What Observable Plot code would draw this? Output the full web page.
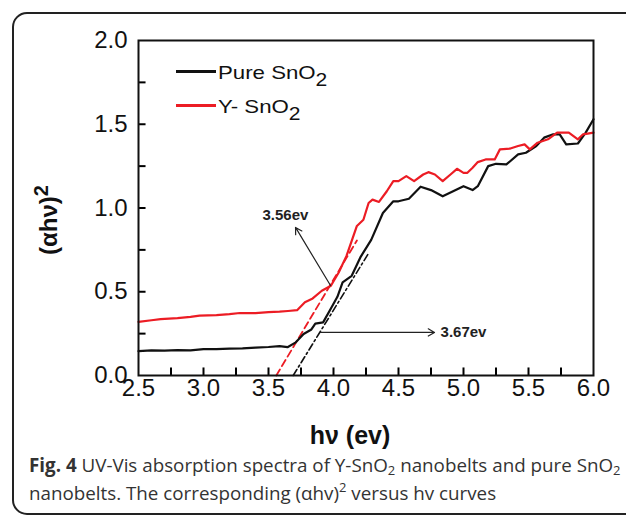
<!DOCTYPE html>
<html>
<head>
<meta charset="utf-8">
<script src="https://cdn.jsdelivr.net/npm/d3@7"></script>
<script src="https://cdn.jsdelivr.net/npm/@observablehq/plot@0.6"></script>
<style>
  html, body { margin: 0; padding: 0; background: #fff; }
  #wrap { position: relative; width: 626px; height: 520px; overflow: hidden; font-family: "Liberation Sans", Arial, sans-serif; }
  #card { position: absolute; left: 12px; top: 12px; width: 700px; height: 503px; border: 2px solid #222; border-radius: 15px; box-sizing: border-box; }
  #chart { position: absolute; left: 0; top: 0; }
  .legend { position: absolute; left: 176px; font-size: 19px; line-height: 22px; color: #111; white-space: nowrap; }
  .legend .sw { display: inline-block; width: 40px; height: 3px; margin-right: 2px; vertical-align: 6px; }
  .legend .tx { display: inline-block; transform: scaleX(1.17); transform-origin: 0 50%; }
  .legend sub { font-size: 18px; vertical-align: -7px; line-height: 0; }
  #xlabel { position: absolute; left: 0; width: 700px; top: 421px; text-align: center; font-weight: bold; font-size: 25px; color: #111; }
  #ylabel { position: absolute; left: 49px; top: 220px; transform: translate(-50%, -50%) rotate(-90deg); font-weight: bold; font-size: 24px; color: #111; white-space: nowrap; }
  #ylabel sup { font-size: 20px; vertical-align: 9px; line-height: 0; }
  #caption { position: absolute; left: 29px; top: 451px; font-family: "Open Sans", sans-serif; font-size: 18.8px; line-height: 28px; color: #333; white-space: nowrap; }
  #caption sub { font-size: 13px; vertical-align: -3px; line-height: 0; }
  #caption sup { font-size: 13px; vertical-align: 8px; line-height: 0; }
</style>
</head>
<body>
<div id="wrap">
  <div id="card"></div>
  <div id="chart"></div>
  <div class="legend" style="top:62px"><span class="sw" style="background:#111"></span><span class="tx">Pure SnO<sub>2</sub></span></div>
  <div class="legend" style="top:96px"><span class="sw" style="background:#ec1c24"></span><span class="tx">Y- SnO<sub>2</sub></span></div>
  <div id="xlabel">hν (ev)</div>
  <div id="ylabel">(αhν)<sup>2</sup></div>
  <div id="caption"><b>Fig. 4</b> UV-Vis absorption spectra of Y-SnO<sub>2</sub> nanobelts and pure SnO<sub>2</sub><br>nanobelts. The corresponding (αhv)<sup>2</sup> versus hv curves</div>
</div>
<script>
// Pure SnO2 curve
const hvPure  = [2.5, 2.6, 2.7, 2.8, 2.9, 3.0, 3.1, 3.2, 3.3, 3.4, 3.5, 3.585, 3.646, 3.71, 3.77, 3.83, 3.86, 3.92, 3.98, 4.03, 4.07, 4.14, 4.21, 4.29, 4.38, 4.46, 4.50, 4.58, 4.67, 4.75, 4.84, 4.92, 5.0, 5.07, 5.11, 5.19, 5.25, 5.33, 5.42, 5.48, 5.56, 5.62, 5.69, 5.74, 5.79, 5.88, 5.94, 6.0];
const absPure = [0.145, 0.15, 0.148, 0.152, 0.15, 0.158, 0.157, 0.16, 0.162, 0.166, 0.17, 0.175, 0.169, 0.198, 0.248, 0.275, 0.31, 0.317, 0.40, 0.47, 0.556, 0.595, 0.71, 0.81, 0.97, 1.04, 1.04, 1.055, 1.127, 1.107, 1.07, 1.10, 1.13, 1.107, 1.13, 1.25, 1.264, 1.26, 1.32, 1.33, 1.37, 1.42, 1.44, 1.44, 1.38, 1.385, 1.45, 1.53];
// Y-SnO2 curve
const hvY  = [2.5, 2.6, 2.67, 2.8, 2.9, 2.97, 3.1, 3.2, 3.28, 3.4, 3.5, 3.585, 3.65, 3.72, 3.78, 3.84, 3.91, 3.98, 4.04, 4.10, 4.18, 4.23, 4.27, 4.30, 4.35, 4.41, 4.46, 4.50, 4.56, 4.62, 4.69, 4.73, 4.78, 4.84, 4.90, 4.95, 5.0, 5.03, 5.07, 5.11, 5.17, 5.24, 5.28, 5.36, 5.42, 5.47, 5.51, 5.57, 5.65, 5.72, 5.81, 5.88, 5.92, 6.0];
const absY = [0.32, 0.33, 0.337, 0.343, 0.35, 0.357, 0.36, 0.366, 0.373, 0.372, 0.378, 0.381, 0.385, 0.39, 0.437, 0.46, 0.506, 0.536, 0.615, 0.714, 0.893, 0.93, 1.03, 1.05, 1.036, 1.10, 1.16, 1.16, 1.19, 1.16, 1.20, 1.214, 1.20, 1.16, 1.20, 1.234, 1.21, 1.21, 1.24, 1.274, 1.29, 1.29, 1.35, 1.355, 1.37, 1.38, 1.35, 1.39, 1.41, 1.45, 1.45, 1.41, 1.44, 1.45];
// Tangent (band-gap extrapolation) lines
const tangentYhv  = [3.56, 4.18];
const tangentYabs = [0.0, 0.806];
const tangentPhv  = [3.69, 4.27];
const tangentPabs = [0.0, 0.73];
// Annotations
const annLabels = ["3.56ev", "3.67ev"];
const annTextX = [3.63, 5.0];
const annTextY = [0.955, 0.257];
const arrowX1 = [3.977, 3.90];
const arrowY1 = [0.537, 0.257];
const arrowX2 = [3.708, 4.777];
const arrowY2 = [0.884, 0.257];
// Ticks
const xMajor = [2.5, 3.0, 3.5, 4.0, 4.5, 5.0, 5.5, 6.0];
const xMinor = [2.75, 3.0, 3.25, 3.5, 3.75, 4.0, 4.25, 4.5, 4.75, 5.0, 5.25, 5.5, 5.75];
const yMajor = [0.0, 0.5, 1.0, 1.5, 2.0];
const yMinor = [0.25, 0.5, 0.75, 1.0, 1.25, 1.5, 1.75];

const pure = hvPure.map((x, i) => ({x, y: absPure[i]}));
const doped = hvY.map((x, i) => ({x, y: absY[i]}));
const tanY = tangentYhv.map((x, i) => ({x, y: tangentYabs[i]}));
const tanP = tangentPhv.map((x, i) => ({x, y: tangentPabs[i]}));
const arrows = arrowX1.map((x1, i) => ({x1, y1: arrowY1[i], x2: arrowX2[i], y2: arrowY2[i]}));
const labels = annLabels.map((t, i) => ({t, x: annTextX[i], y: annTextY[i]}));
const xTickRows = xMinor.map(v => ({v}));
const yTickRows = yMinor.map(v => ({v}));

const RED = "#ec1c24";
const fmt = d3.format(".1f");
const TICK_Y = 0.045;  // inward tick length on the x axis (y units)
const TICK_X = 0.058;  // inward tick length on the y axis (x units)

const chart = Plot.plot({
  width: 626,
  height: 460,
  marginLeft: 138,
  marginRight: 33,
  marginTop: 40,
  marginBottom: 85,
  style: {fontFamily: "Liberation Sans, Arial, sans-serif", background: "transparent", overflow: "visible", color: "#111"},
  x: {domain: [2.5, 6.0]},
  y: {domain: [0, 2.0]},
  marks: [
    Plot.line(tanY, {x: "x", y: "y", stroke: RED, strokeWidth: 1.8, strokeDasharray: "7,4"}),
    Plot.line(tanP, {x: "x", y: "y", stroke: "#111", strokeWidth: 1.6, strokeDasharray: "7,3,2,3"}),
    Plot.line(pure, {x: "x", y: "y", stroke: "#111", strokeWidth: 2.2}),
    Plot.line(doped, {x: "x", y: "y", stroke: RED, strokeWidth: 2.2}),
    Plot.arrow(arrows, {x1: "x1", y1: "y1", x2: "x2", y2: "y2", stroke: "#222", strokeWidth: 1.2, headLength: 9}),
    Plot.text(labels, {x: "x", y: "y", text: "t", fontWeight: "bold", fontSize: 15, fill: "#222"}),
    // inward ticks
    Plot.ruleX(xTickRows, {x: "v", y1: 0, y2: TICK_Y, stroke: "#000", strokeWidth: 2}),
    Plot.ruleY(yTickRows, {y: "v", x1: 2.5, x2: 2.5 + TICK_X, stroke: "#000", strokeWidth: 2}),
    Plot.frame({stroke: "#111", strokeWidth: 2}),
    Plot.axisX({ticks: xMajor, tickSize: 0, tickPadding: 3, tickFormat: fmt, fontSize: 24, label: null, fill: "#111"}),
    Plot.axisY({ticks: yMajor, tickSize: 0, tickPadding: 11, tickFormat: fmt, fontSize: 24, label: null, fill: "#111"})
  ]
});
document.getElementById("chart").appendChild(chart);
</script>
</body>
</html>
